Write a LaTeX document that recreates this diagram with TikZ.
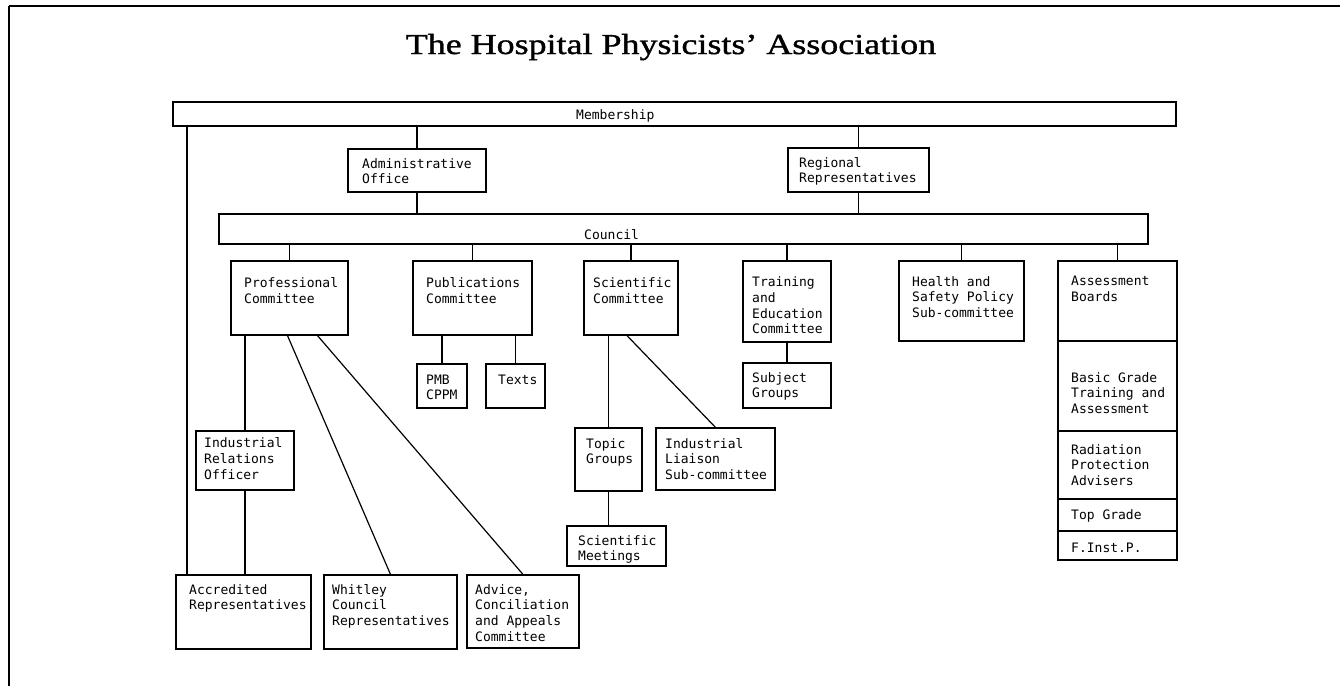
\documentclass[tikz,border=0pt]{standalone}
\usepackage{fontspec}
\newfontfamily\monof{DejaVu Sans Mono}
\newfontfamily\titlef[FakeStretch=1.24,FakeBold=1.2]{Liberation Serif}
\usetikzlibrary{fit}
\newcommand\ml[1]{\vtop{\halign{##\hfil\cr#1\crcr}}}
\newcommand\bx[5]{\node[box, fit={(#2,#3) (#4,#5)}] (#1) {};}
\newcommand\tx[4]{\node[txt] (#1) at (#2,#3) {\ml{#4}};}
\begin{document}
\begin{tikzpicture}[x=1pt,y=-1pt,
  box/.style={draw, line width=1.2pt, inner sep=0pt},
  txt/.style={inner sep=0pt, anchor=base west, font=\monof\fontsize{13}{15.8}\selectfont},
  conn/.style={line width=1.2pt}]
\useasboundingbox (0,0) rectangle (1340,686);
% frame
\draw[line width=2pt] (9,6) -- (1340,6);
\draw[line width=1.3pt] (9,6) -- (9,686);
% title
\node[font=\titlef\fontsize{29}{32}\selectfont, anchor=base, inner sep=0pt] (title) at (671,54) {The Hospital Physicists’ Association};
% boxes
\bx{mem}{173}{102}{1176}{126}
\bx{adm}{348}{149}{486}{192}
\bx{reg}{788}{148}{929}{192}
\bx{cou}{219}{214}{1148}{244}
\bx{prof}{231}{261}{348}{335}
\bx{pub}{413}{261}{532}{335}
\bx{sci}{584}{261}{678}{335}
\bx{trn}{743}{261}{831}{342}
\bx{hs}{899}{261}{1024}{341}
\bx{ab1}{1058}{261}{1177}{341}
\bx{ab2}{1058}{341}{1177}{431}
\bx{ab3}{1058}{431}{1177}{499}
\bx{ab4}{1058}{499}{1177}{531}
\bx{ab5}{1058}{531}{1177}{560}
\bx{pmb}{417}{364}{467}{408}
\bx{texts}{486}{364}{545}{408}
\bx{sub}{743}{363}{831}{408}
\bx{iro}{196}{431}{294}{490}
\bx{topic}{575}{428}{642}{491}
\bx{ind}{656}{428}{775}{490}
\bx{sm}{567}{526}{666}{566}
\bx{acc}{176}{575}{311}{649}
\bx{whi}{324}{575}{457}{649}
\bx{adv}{467}{575}{579}{648}
% texts
\tx{mem-t}{576}{119}{Membership}
\tx{adm-t}{362}{168}{Administrative\cr Office}
\tx{reg-t}{799}{167}{Regional\cr Representatives}
\tx{cou-t}{584}{239}{Council}
\tx{prof-t}{244}{287.5}{Professional\cr Committee}
\tx{pub-t}{426}{287.5}{Publications\cr Committee}
\tx{sci-t}{593}{287.5}{Scientific\cr Committee}
\tx{trn-t}{752}{286.5}{Training\cr and\cr Education\cr Committee}
\tx{hs-t}{912}{286}{Health and\cr Safety Policy\cr Sub-committee}
\tx{ab1-t}{1071}{285.5}{Assessment\cr Boards}
\tx{ab2-t}{1071}{382}{Basic Grade\cr Training and\cr Assessment}
\tx{ab3-t}{1071}{454}{Radiation\cr Protection\cr Advisers}
\tx{ab4-t}{1071}{519}{Top Grade}
\tx{ab5-t}{1071}{552}{F.Inst.P.}
\tx{pmb-t}{426}{384}{PMB\cr CPPM}
\tx{texts-t}{498}{384}{Texts}
\tx{sub-t}{752}{382}{Subject\cr Groups}
\tx{iro-t}{204}{447.5}{Industrial\cr Relations\cr Officer}
\tx{topic-t}{586}{448}{Topic\cr Groups}
\tx{ind-t}{665}{448}{Industrial\cr Liaison\cr Sub-committee}
\tx{sm-t}{578}{545}{Scientific\cr Meetings}
\tx{acc-t}{189}{594}{Accredited\cr Representatives}
\tx{whi-t}{332}{594}{Whitley\cr Council\cr Representatives}
\tx{adv-t}{475}{594}{Advice,\cr Conciliation\cr and Appeals\cr Committee}
% connectors
\draw[conn] (mem.south -| adm.north) -- (adm.north);
\draw[conn] (adm.south) -- (adm.south |- cou.north);
\draw[conn] (mem.south -| reg.north) -- (reg.north);
\draw[conn] (reg.south) -- (reg.south |- cou.north);
\foreach \n in {prof,pub,sci,trn,hs,ab1} \draw[conn] (cou.south -| \n.north) -- (\n.north);
\coordinate (memleg) at ([xshift=14.5pt]mem.south west);
\draw[conn] (memleg) -- (memleg |- acc.north);
\draw[conn] (prof.south -| iro.north) -- (iro.north);
\draw[conn] (iro.south) -- (iro.south |- acc.north);
\draw[conn] ([xshift=-2pt]prof.south) -- (whi.north);
\draw[conn] ([xshift=28pt]prof.south) -- (adv.north);
\draw[conn] (pub.south -| pmb.north) -- (pmb.north);
\draw[conn] (pub.south -| texts.north) -- (texts.north);
\draw[conn] (sci.south -| topic.north) -- (topic.north);
\draw[conn] ([xshift=-4pt]sci.south) -- (ind.north);
\draw[conn] (topic.south) -- (topic.south |- sm.north);
\draw[conn] (trn.south) -- (sub.north);
\end{tikzpicture}
\end{document}
